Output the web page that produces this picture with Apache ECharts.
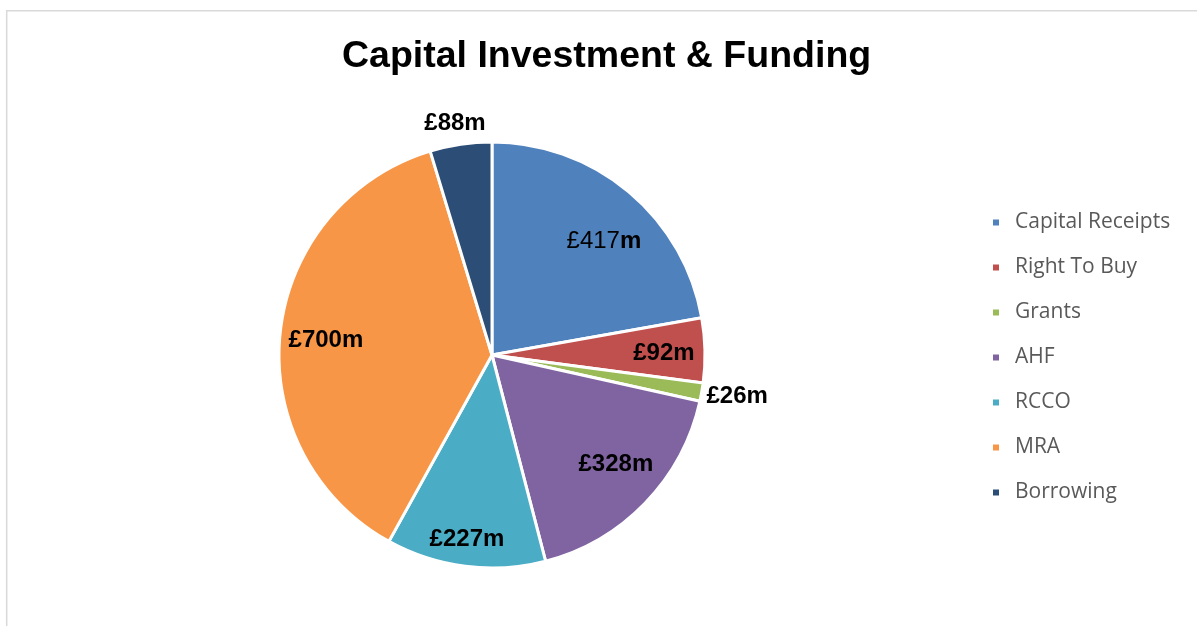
<!DOCTYPE html>
<html>
<head>
<meta charset="utf-8">
<script src="https://cdn.jsdelivr.net/npm/echarts@6/dist/echarts.min.js"></script>
<style>
  html, body { margin: 0; padding: 0; background: #fff; }
  #chart { width: 1197px; height: 626px; }
</style>
</head>
<body>
<div id="chart"></div>
<script>
// funding sources, in £m
var categories = ['Capital Receipts', 'Right To Buy', 'Grants', 'AHF', 'RCCO', 'MRA', 'Borrowing']
var values = [417, 92, 26, 328, 227, 700, 88]
var colors = ['#4F81BD', '#C0504D', '#9BBB59', '#8064A2', '#4BACC6', '#F79646', '#2C4D75']
// which labels sit outside the pie
var outside = ['Grants', 'Borrowing']

var chart = echarts.init(document.getElementById('chart'))

var labelFont = 'Liberation Sans, Arial, sans-serif'

function labelText (p) {
  // first one is drawn with a regular number, as in the source
  if (p.dataIndex === 0) return '{n|£' + p.value + '}{b|m}'
  return '{b|£' + p.value + 'm}'
}

var mainData = categories.map(function (name, i) {
  return {
    name: name,
    value: values[i],
    itemStyle: { color: colors[i] },
    label: { show: outside.indexOf(name) >= 0 }
  }
})

// invisible twin, only used to place the inside labels further out
var labelData = categories.map(function (name, i) {
  return {
    name: name,
    value: values[i],
    itemStyle: { color: 'rgba(0,0,0,0)' },
    label: { show: outside.indexOf(name) < 0 }
  }
})

var richStyle = {
  n: { fontFamily: labelFont, fontSize: 24, fontWeight: 'normal', color: '#000' },
  b: { fontFamily: labelFont, fontSize: 24, fontWeight: 'bold', color: '#000' }
}

var options = {
  animation: false,
  color: colors,
  title: {
    text: 'Capital Investment & Funding',
    left: 342,
    top: 38,
    padding: 0,
    textStyle: {
      fontFamily: labelFont,
      fontSize: 37.5,
      fontWeight: 'bold',
      color: '#000'
    }
  },
  legend: {
    orient: 'vertical',
    left: 991,
    top: 212,
    padding: 0,
    data: categories,
    icon: 'rect',
    itemWidth: 8,
    itemHeight: 8,
    itemGap: 24,
    selectedMode: false,
    textStyle: {
      fontFamily: 'Open Sans, Noto Sans, sans-serif',
      fontSize: 21,
      color: '#595959',
      padding: [0, 0, 0, 10]
    }
  },
  graphic: [{
    type: 'rect',
    silent: true,
    shape: { x: 6.7, y: 10.7, width: 1400, height: 900 },
    style: { fill: 'none', stroke: '#d9d9d9', lineWidth: 1.5 }
  }],
  series: [
    {
      name: 'Funding',
      type: 'pie',
      center: [492, 355],
      radius: [0, 213],
      startAngle: 90,
      clockwise: true,
      avoidLabelOverlap: false,
      itemStyle: { borderColor: '#fff', borderWidth: 3 },
      label: {
        position: 'outside',
        formatter: labelText,
        rich: richStyle
      },
      labelLine: { show: false, length: 14, length2: 0 },
      labelLayout: function (p) {
        if (p.dataIndex === 2) return { dx: -14, dy: 2 }
        if (p.dataIndex === 6) return { dx: 32, dy: -7 }
        return {}
      },
      data: mainData
    },
    {
      name: 'Labels',
      type: 'pie',
      silent: true,
      center: [492, 355],
      radius: [0, 330],
      startAngle: 90,
      clockwise: true,
      avoidLabelOverlap: false,
      itemStyle: { borderWidth: 0 },
      emphasis: { disabled: true },
      label: {
        position: 'inside',
        formatter: labelText,
        rich: richStyle
      },
      labelLayout: function (p) {
        if (p.dataIndex === 0) return { dx: 4, dy: 15 }
        if (p.dataIndex === 1) return { dx: 4, dy: 2 }
        if (p.dataIndex === 3) return { dx: 3, dy: -7 }
        if (p.dataIndex === 4) return { dx: -4, dy: 18 }
        if (p.dataIndex === 5) return { dx: 1, dy: 3 }
        return {}
      },
      data: labelData
    }
  ]
}

chart.setOption(options)
window.addEventListener('resize', function () { chart.resize() })
</script>
</body>
</html>
